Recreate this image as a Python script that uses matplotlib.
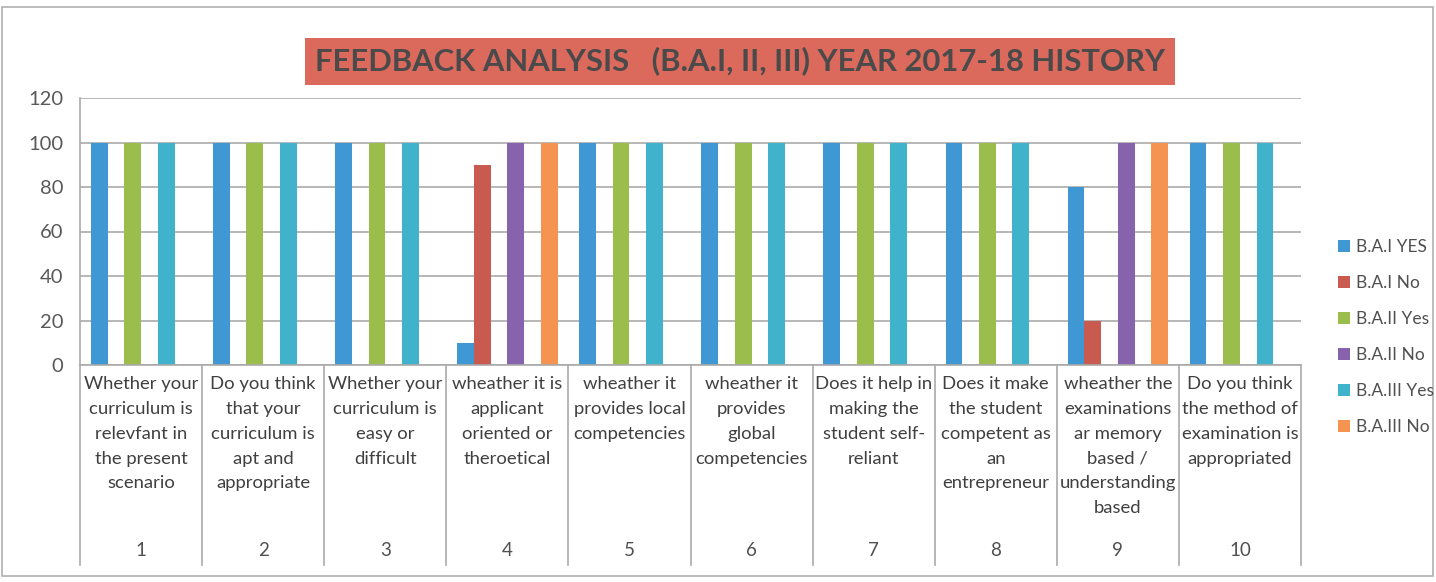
import matplotlib
matplotlib.use("Agg")
import matplotlib.pyplot as plt
from matplotlib.patches import Rectangle
import numpy as np

plt.rcParams['font.family'] = ['Lato', 'DejaVu Sans']

# ---- data ----
categories = ["1", "2", "3", "4", "5", "6", "7", "8", "9", "10"]
questions = [
    "Whether your\ncurriculum is\nrelevfant in\nthe present\nscenario",
    "Do you think\nthat your\ncurriculum is\napt and\nappropriate",
    "Whether your\ncurriculum is\neasy or\ndifficult",
    "wheather it is\napplicant\noriented or\ntheroetical",
    "wheather it\nprovides local\ncompetencies",
    "wheather it\nprovides\nglobal\ncompetencies",
    "Does it help in\nmaking the\nstudent self-\nreliant",
    "Does it make\nthe student\ncompetent as\nan\nentrepreneur",
    "wheather the\nexaminations\nar memory\nbased /\nunderstanding\nbased",
    "Do you think\nthe method of\nexamination is\nappropriated",
]
series_names = ["B.A.I YES", "B.A.I No", "B.A.II Yes", "B.A.II No", "B.A.III Yes", "B.A.III No"]
ba1_yes = [100, 100, 100, 10, 100, 100, 100, 100, 80, 100]
ba1_no = [0, 0, 0, 90, 0, 0, 0, 0, 20, 0]
ba2_yes = [100, 100, 100, 0, 100, 100, 100, 100, 0, 100]
ba2_no = [0, 0, 0, 100, 0, 0, 0, 0, 100, 0]
ba3_yes = [100, 100, 100, 0, 100, 100, 100, 100, 0, 100]
ba3_no = [0, 0, 0, 100, 0, 0, 0, 0, 100, 0]
yticks = [0, 20, 40, 60, 80, 100, 120]
title = "FEEDBACK ANALYSIS   (B.A.I, II, III) YEAR 2017-18 HISTORY"

series = [ba1_yes, ba1_no, ba2_yes, ba2_no, ba3_yes, ba3_no]
colors = ["#3f97d3", "#c95a50", "#9bbd4c", "#8762ad", "#40b2cc", "#f49450"]

W, H = 1436, 582
fig = plt.figure(figsize=(W / 100, H / 100), dpi=100)

def fx(px):
    return px / W

def fy(py):
    return 1 - py / H

x0, x1 = 80, 1301
ytop, ybase = 98, 365
ax = fig.add_axes([fx(x0), fy(ybase), fx(x1) - fx(x0), fy(ytop) - fy(ybase)])

n = len(categories)
x = np.arange(n)
slot = 0.137
for i, (vals, name, c) in enumerate(zip(series, series_names, colors)):
    ax.bar(x + (i - 2.5) * slot, vals, width=slot, color=c, label=name, linewidth=0)

ax.set_xlim(-0.5, n - 0.5)
ax.set_ylim(0, 120)
ax.set_yticks(yticks)
ax.set_yticklabels([str(v) for v in yticks], fontsize=14.5, color="#595959")
ax.tick_params(axis="y", length=0, pad=12)
ax.tick_params(axis="x", length=0, labelbottom=False)
ax.grid(axis="y", color="#aaaaaa", linewidth=1.2)
ax.set_axisbelow(True)
for s in ["top", "right", "bottom"]:
    ax.spines[s].set_visible(False)
ax.spines["left"].set_color("#aaaaaa")
ax.spines["left"].set_linewidth(1.2)

# category separators and labels (below the axis)
trans = ax.get_xaxis_transform()
bottom_axes = (fy(565) - fy(ybase)) / (fy(ytop) - fy(ybase))
for k in range(n + 1):
    ax.plot([k - 0.5, k - 0.5], [0, bottom_axes], transform=trans, color="#aaaaaa",
            linewidth=1.2, clip_on=False)
ax.plot([-0.5, n - 0.5], [0, 0], transform=trans, color="#aaaaaa", linewidth=1.2, clip_on=False)
q_top = (fy(376) - fy(ybase)) / (fy(ytop) - fy(ybase))
num_y = (fy(551) - fy(ybase)) / (fy(ytop) - fy(ybase))
for k in range(n):
    ax.text(k, q_top, questions[k], transform=trans, ha="center", va="top", fontsize=13.3,
            color="#404040", linespacing=1.68, clip_on=False)
    ax.text(k, num_y, categories[k], transform=trans, ha="center", va="center", fontsize=13.5,
            color="#505050", clip_on=False)

# title box
fig.patches.append(Rectangle((fx(305), fy(85)), fx(1175) - fx(305), fy(38) - fy(85),
                             transform=fig.transFigure, facecolor="#db6a5d", edgecolor="none"))
fig.text(fx(740), fy(61), title, ha="center", va="center", fontsize=22.3, fontweight="bold",
         color="#4a4a4a")

# chart border
fig.patches.append(Rectangle((fx(2), fy(576)), fx(1433) - fx(2), fy(7) - fy(576),
                             transform=fig.transFigure, facecolor="none", edgecolor="#b0b0b0",
                             linewidth=1.2))

leg = fig.legend(loc="center left", bbox_to_anchor=(fx(1322), fy(337)), frameon=False,
                 fontsize=12.5, handlelength=0.7, handleheight=0.7, handletextpad=0.35,
                 labelspacing=1.15)
for t in leg.get_texts():
    t.set_color("#505050")

fig.savefig("out.png", dpi=100, facecolor="white")
